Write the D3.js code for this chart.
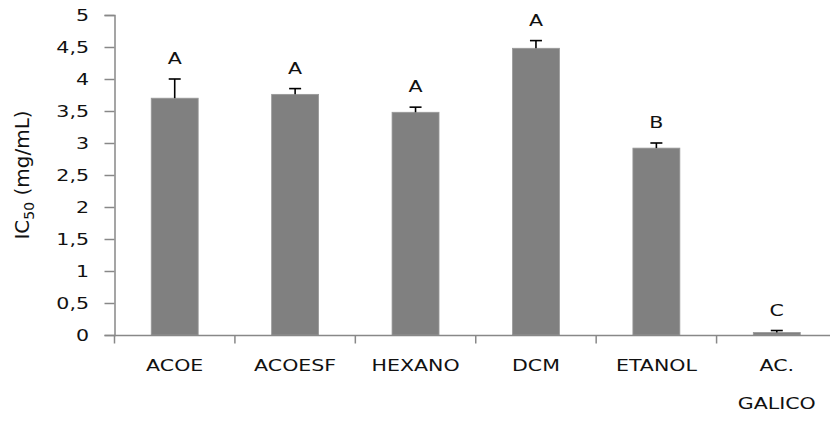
<!DOCTYPE html>
<html><head><meta charset="utf-8">
<script src="https://cdn.jsdelivr.net/npm/d3@7"></script>
<style>body{margin:0;background:#fff}svg{display:block}text{font-family:"DejaVu Sans",Verdana,sans-serif}</style>
</head><body><svg id="c" width="830" height="423"></svg>
<script>
const categories = ["ACOE","ACOESF","HEXANO","DCM","ETANOL","AC. GALICO"];
const values = [3.70, 3.76, 3.48, 4.48, 2.92, 0.04];
const errors = [0.30, 0.09, 0.08, 0.12, 0.08, 0.03];
const letters = ["A","A","A","A","B","C"];
const yTicks = [0,0.5,1,1.5,2,2.5,3,3.5,4,4.5,5];

const SX = 1.37; // horizontal stretch of the reference text
const svg = d3.select("#c");
const x = d3.scaleBand().domain(categories).range([114.5, 837]).paddingInner(0.61).paddingOuter(0.305);
const y = d3.scaleLinear().domain([0,5]).range([335,15]);
const fmt = d => String(d).replace(".", ",");

function stretchedText(g, tx, ty, str, anchor, size) {
  return g.append("text").attr("transform", `translate(${tx},${ty}) scale(${SX},1)`)
    .attr("text-anchor", anchor).attr("font-size", size).attr("fill", "#111").text(str);
}

// bars
svg.selectAll("rect.bar").data(categories).join("rect")
  .attr("x", d => x(d)).attr("width", x.bandwidth())
  .attr("y", (d,i) => y(values[i])).attr("height", (d,i) => y(0) - y(values[i]))
  .attr("fill", "#808080").attr("stroke","#999").attr("stroke-width",0.8);

// error bars
const eb = svg.append("g").attr("stroke","#000").attr("stroke-width",1.6);
categories.forEach((c,i) => {
  const cx = x(c) + x.bandwidth()/2;
  eb.append("line").attr("x1",cx).attr("x2",cx).attr("y1",y(values[i])).attr("y2",y(values[i]+errors[i]));
  eb.append("line").attr("x1",cx-6).attr("x2",cx+6).attr("y1",y(values[i]+errors[i])).attr("y2",y(values[i]+errors[i]));
});

// letters
const lg = svg.append("g");
categories.forEach((c,i) => {
  stretchedText(lg, x(c) + x.bandwidth()/2, y(values[i]+errors[i]) - 15, letters[i], "middle", 15);
});

// y axis
const ya = svg.append("g").attr("transform","translate(114.5,0)")
  .call(d3.axisLeft(y).tickValues(yTicks).tickFormat("").tickSize(10));
ya.select(".domain").attr("stroke","#888").attr("stroke-width",1.5);
ya.selectAll(".tick line").attr("stroke","#888").attr("stroke-width",1.5);
const tg = svg.append("g");
yTicks.forEach(t => stretchedText(tg, 89, y(t) + 5.5, fmt(t), "end", 15));

// x axis
const xa = svg.append("g").attr("transform","translate(0,335.5)");
xa.append("line").attr("x1",114.5).attr("x2",830).attr("stroke","#888").attr("stroke-width",1.5);
const bounds = categories.map(c => x(c) - x.step()*x.paddingInner()/2);
xa.selectAll("line.t").data(bounds).join("line")
  .attr("x1",d=>d).attr("x2",d=>d).attr("y1",0).attr("y2",8).attr("stroke","#888").attr("stroke-width",1.5);
const cg = svg.append("g");
categories.forEach(c => {
  const cx = x(c) + x.bandwidth()/2;
  const parts = c === "AC. GALICO" ? ["AC.","GALICO"] : [c];
  parts.forEach((p,k) => stretchedText(cg, cx, 371 + k*38, p, "middle", 15));
});

// y title
const yt = svg.append("text").attr("transform","translate(29,175) rotate(-90)")
  .attr("text-anchor","middle").attr("font-size",20).attr("fill","#111");
yt.append("tspan").text("IC");
yt.append("tspan").attr("font-size",14).attr("dy",5).text("50");
yt.append("tspan").attr("dy",-5).text(" (mg/mL)");
</script></body></html>
